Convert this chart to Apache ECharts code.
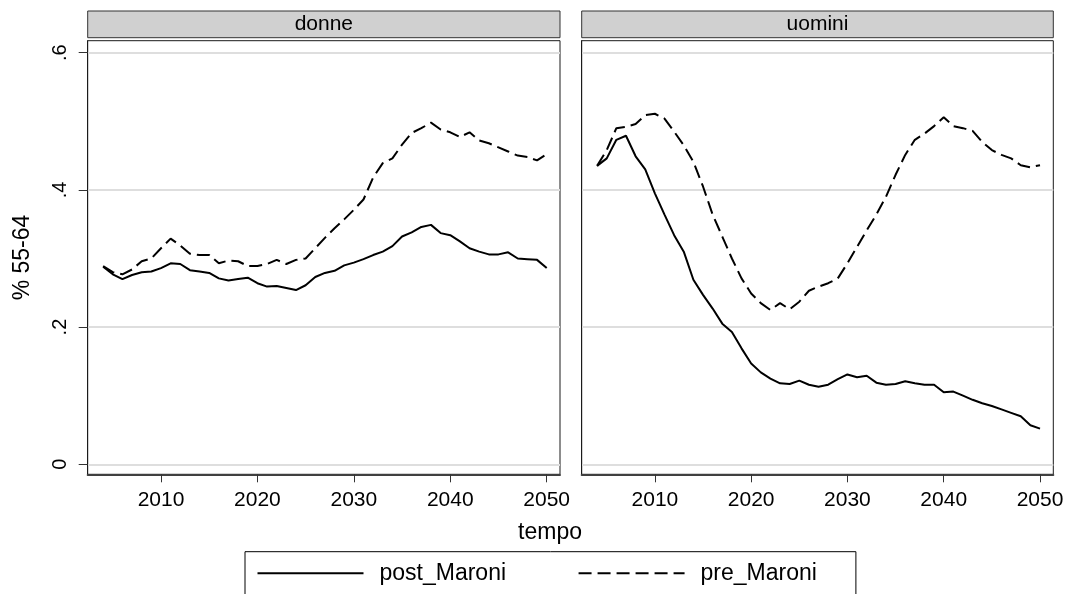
<!DOCTYPE html>
<html><head><meta charset="utf-8">
<script src="https://cdn.jsdelivr.net/npm/echarts@6/dist/echarts.min.js"></script>
<style>html,body{margin:0;padding:0;background:#fff}#c{width:1071px;height:594px}</style>
</head><body><div id="c"></div>
<script>
const years = [2004,2005,2006,2007,2008,2009,2010,2011,2012,2013,2014,2015,2016,2017,2018,2019,2020,2021,2022,2023,2024,2025,2026,2027,2028,2029,2030,2031,2032,2033,2034,2035,2036,2037,2038,2039,2040,2041,2042,2043,2044,2045,2046,2047,2048,2049,2050];
const donnePost = [0.288,0.277,0.270,0.276,0.280,0.281,0.286,0.293,0.292,0.283,0.281,0.279,0.271,0.268,0.270,0.272,0.264,0.259,0.260,0.257,0.254,0.261,0.273,0.279,0.282,0.290,0.294,0.299,0.305,0.310,0.318,0.332,0.338,0.346,0.349,0.337,0.334,0.325,0.315,0.310,0.306,0.306,0.309,0.300,0.299,0.298,0.286];
const donnePre = [0.289,0.280,0.277,0.284,0.296,0.300,0.315,0.329,0.319,0.307,0.305,0.305,0.293,0.297,0.296,0.289,0.289,0.292,0.298,0.292,0.298,0.300,0.315,0.330,0.344,0.357,0.371,0.386,0.418,0.439,0.446,0.466,0.483,0.490,0.498,0.488,0.484,0.477,0.484,0.472,0.468,0.462,0.456,0.450,0.448,0.443,0.452];
const uominiPost = [0.435,0.446,0.473,0.479,0.449,0.430,0.395,0.364,0.334,0.310,0.269,0.247,0.227,0.205,0.193,0.169,0.147,0.134,0.125,0.118,0.117,0.122,0.116,0.113,0.116,0.124,0.131,0.127,0.129,0.119,0.116,0.117,0.121,0.118,0.116,0.116,0.105,0.106,0.100,0.094,0.089,0.085,0.080,0.075,0.070,0.057,0.052];
const uominiPre = [0.435,0.458,0.490,0.492,0.496,0.509,0.511,0.504,0.485,0.465,0.441,0.405,0.364,0.332,0.300,0.271,0.249,0.235,0.225,0.235,0.226,0.237,0.253,0.259,0.264,0.271,0.293,0.317,0.341,0.364,0.390,0.422,0.451,0.473,0.482,0.493,0.506,0.493,0.490,0.486,0.470,0.458,0.451,0.446,0.436,0.433,0.436];
const panels = ['donne', 'uomini'];
const seriesNames = ['post_Maroni', 'pre_Maroni'];
const xTicks = [2010, 2020, 2030, 2040, 2050];
const yTicks = [0, 0.2, 0.4, 0.6];
const yTickLabels = ['0', '.2', '.4', '.6'];
const xTitle = 'tempo';
const yTitle = '% 55-64';

const FONT = '"Liberation Sans", Arial, Helvetica, sans-serif';
const panelData = [[donnePost, donnePre], [uominiPost, uominiPre]];
const pairs = v => years.map((y, i) => [y, v[i]]);
const boxes = [
  {left: 87.7, top: 40.7, width: 472.3, height: 433.6},
  {left: 581.7, top: 40.7, width: 471.6, height: 433.6}
];
const X_MIN = 2002.4, X_MAX = 2051.38, Y_MIN = -0.0146, Y_MAX = 0.6175;

const chart = echarts.init(document.getElementById('c'), null, {renderer: 'canvas'});

const grids = boxes.map(b => ({
  left: b.left, top: b.top, width: b.width, height: b.height,
  show: true, borderColor: '#1a1a1a', borderWidth: 1, backgroundColor: '#fff'
}));

const xAxes = boxes.map((b, i) => ({
  type: 'value', gridIndex: i, min: X_MIN, max: X_MAX,
  axisLine: {show: true, onZero: false, lineStyle: {color: '#404040', width: 2}},
  axisTick: {show: true, length: 8, customValues: xTicks, lineStyle: {color: '#333', width: 1}},
  axisLabel: {show: true, customValues: xTicks, margin: 15, fontFamily: FONT, fontSize: 21, color: '#000',
    formatter: v => String(Math.round(v))},
  splitLine: {show: false}
}));

const yAxes = boxes.map((b, i) => ({
  type: 'value', gridIndex: i, min: Y_MIN, max: Y_MAX,
  name: i === 0 ? yTitle : '', nameLocation: 'middle', nameGap: 53.5,
  nameTextStyle: {fontFamily: FONT, fontSize: 23, color: '#000'},
  axisLine: {show: true, onZero: false, lineStyle: {color: '#1a1a1a', width: 1}},
  axisTick: {show: i === 0, length: 9, customValues: yTicks, lineStyle: {color: '#333', width: 1}},
  axisLabel: {show: i === 0, customValues: yTicks, rotate: 90, margin: 17, fontFamily: FONT, fontSize: 20, color: '#000',
    formatter: v => { const k = yTicks.findIndex(t => Math.abs(t - v) < 1e-9); return k >= 0 ? yTickLabels[k] : ''; }},
  splitLine: {show: true, lineStyle: {color: '#dedede', width: 2}}
}));

const series = [];
panelData.forEach((pd, p) => {
  pd.forEach((vals, s) => {
    series.push({
      name: seriesNames[s], type: 'line', xAxisIndex: p, yAxisIndex: p,
      data: pairs(vals), showSymbol: false, symbol: 'none', z: 3,
      lineStyle: {color: '#000', width: 2, type: s === 0 ? 'solid' : [13, 6]},
      itemStyle: {color: '#000'},
      emphasis: {disabled: true}
    });
  });
});

const graphic = [];
boxes.forEach((b, i) => {
  graphic.push({type: 'rect', shape: {x: b.left, y: 11, width: b.width, height: 26.7},
    style: {fill: '#d0d0d0', stroke: '#333', lineWidth: 1}, silent: true});
  graphic.push({type: 'text', x: b.left + b.width / 2, y: 24.5, silent: true,
    style: {text: panels[i], fill: '#000', font: '21px ' + FONT, textAlign: 'center', textVerticalAlign: 'middle'}});
});
graphic.push({type: 'text', x: 550, y: 533, silent: true,
  style: {text: xTitle, fill: '#000', font: '23px ' + FONT, textAlign: 'center', textVerticalAlign: 'middle'}});

chart.setOption({
  animation: false,
  backgroundColor: '#fff',
  grid: grids, xAxis: xAxes, yAxis: yAxes, series: series, graphic: graphic,
  legend: {
    data: seriesNames, left: 245, top: 551.7, orient: 'horizontal',
    itemWidth: 106, itemHeight: 14, itemGap: 71.5,
    padding: [10, 39, 20, 11.5],
    borderColor: '#000', borderWidth: 1, backgroundColor: '#fff',
    selectedMode: false,
    itemStyle: {opacity: 0, color: 'transparent', borderWidth: 0},
    textStyle: {fontFamily: FONT, fontSize: 23, color: '#000', padding: [0, 0, 0, 11]}
  }
});
</script></body></html>
